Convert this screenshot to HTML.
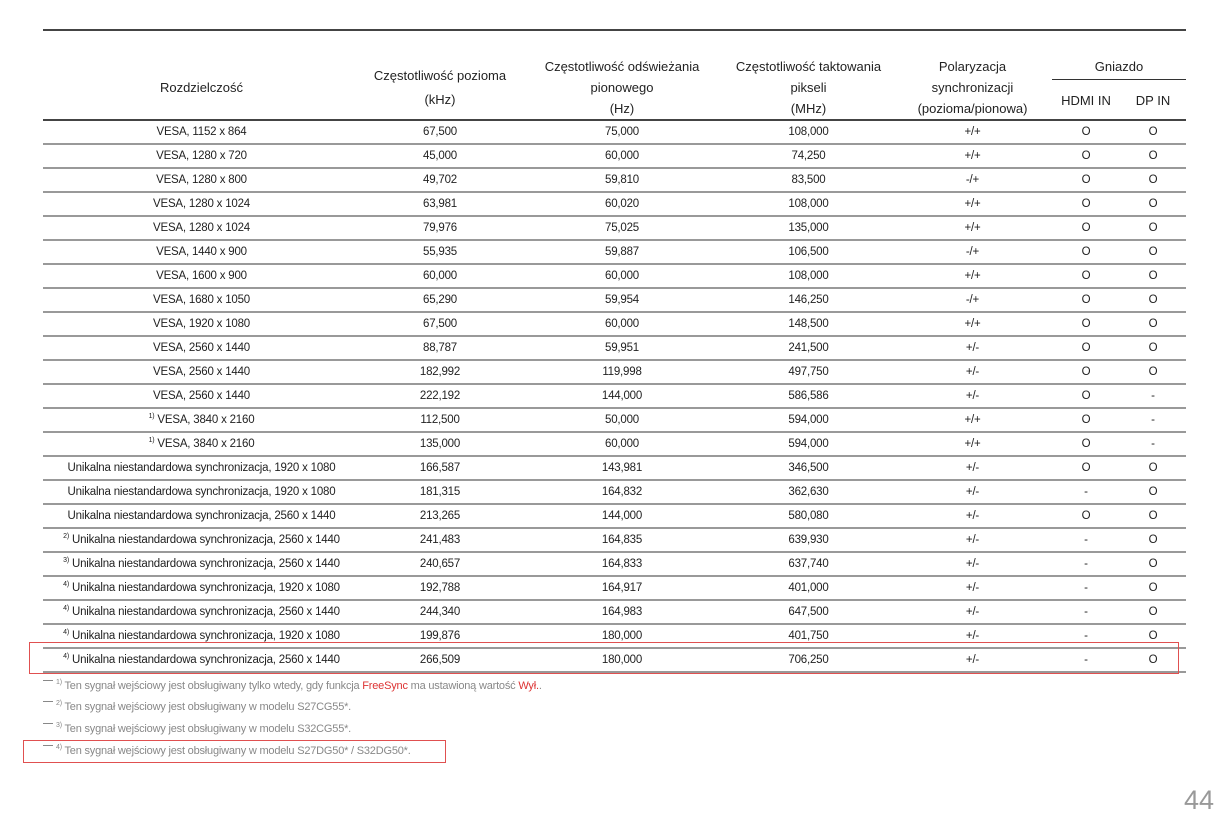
<!DOCTYPE html>
<html><head><meta charset="utf-8"><style>
body{margin:0;width:1226px;height:829px;background:#fff;font-family:"Liberation Sans",sans-serif;color:#222;position:relative;overflow:hidden}
table{position:absolute;left:43px;top:119px;width:1143px;border-collapse:collapse;table-layout:fixed;font-size:11.5px;letter-spacing:-0.2px}
td{text-align:center;padding:0}
tbody td{height:22px;line-height:22px;border-bottom:2px solid #999;white-space:nowrap}
tbody tr:first-child td{border-top:2px solid #444}
sup{font-size:7px;vertical-align:5px;line-height:0}
.h{position:absolute;font-size:13px;text-align:center;line-height:21px;color:#222;white-space:nowrap}
.fn{position:absolute;left:43px;font-size:11px;color:#888;letter-spacing:-0.2px}
.fn:before{content:"";position:absolute;left:0;top:0;width:10px;border-top:1px solid #888}
.fn>span{margin-left:13px}
.r{color:#d33}
.box{position:absolute;border:1px solid #e05050}
</style></head><body>
<div style="position:absolute;left:43px;top:29px;width:1143px;border-top:2px solid #444"></div>
<div class="h" style="left:43px;width:317px;top:77px">Rozdzielczość</div>
<div class="h" style="left:360px;width:160px;top:65px">Częstotliwość pozioma</div>
<div class="h" style="left:360px;width:160px;top:89px">(kHz)</div>
<div class="h" style="left:520px;width:204px;top:56px">Częstotliwość odświeżania<br>pionowego<br>(Hz)</div>
<div class="h" style="left:724px;width:169px;top:56px">Częstotliwość taktowania<br>pikseli<br>(MHz)</div>
<div class="h" style="left:893px;width:159px;top:56px">Polaryzacja<br>synchronizacji<br>(pozioma/pionowa)</div>
<div class="h" style="left:1052px;width:134px;top:56px">Gniazdo</div>
<div style="position:absolute;left:1052px;top:79px;width:134px;border-top:1px solid #333"></div>
<div class="h" style="left:1052px;width:68px;top:90px">HDMI IN</div>
<div class="h" style="left:1120px;width:66px;top:90px">DP IN</div>
<table>
<colgroup><col style="width:317px"><col style="width:160px"><col style="width:204px"><col style="width:169px"><col style="width:159px"><col style="width:68px"><col style="width:66px"></colgroup>
<tbody>
<tr><td>VESA, 1152 x 864</td><td>67,500</td><td>75,000</td><td>108,000</td><td>+/+</td><td>O</td><td>O</td></tr>
<tr><td>VESA, 1280 x 720</td><td>45,000</td><td>60,000</td><td>74,250</td><td>+/+</td><td>O</td><td>O</td></tr>
<tr><td>VESA, 1280 x 800</td><td>49,702</td><td>59,810</td><td>83,500</td><td>-/+</td><td>O</td><td>O</td></tr>
<tr><td>VESA, 1280 x 1024</td><td>63,981</td><td>60,020</td><td>108,000</td><td>+/+</td><td>O</td><td>O</td></tr>
<tr><td>VESA, 1280 x 1024</td><td>79,976</td><td>75,025</td><td>135,000</td><td>+/+</td><td>O</td><td>O</td></tr>
<tr><td>VESA, 1440 x 900</td><td>55,935</td><td>59,887</td><td>106,500</td><td>-/+</td><td>O</td><td>O</td></tr>
<tr><td>VESA, 1600 x 900</td><td>60,000</td><td>60,000</td><td>108,000</td><td>+/+</td><td>O</td><td>O</td></tr>
<tr><td>VESA, 1680 x 1050</td><td>65,290</td><td>59,954</td><td>146,250</td><td>-/+</td><td>O</td><td>O</td></tr>
<tr><td>VESA, 1920 x 1080</td><td>67,500</td><td>60,000</td><td>148,500</td><td>+/+</td><td>O</td><td>O</td></tr>
<tr><td>VESA, 2560 x 1440</td><td>88,787</td><td>59,951</td><td>241,500</td><td>+/-</td><td>O</td><td>O</td></tr>
<tr><td>VESA, 2560 x 1440</td><td>182,992</td><td>119,998</td><td>497,750</td><td>+/-</td><td>O</td><td>O</td></tr>
<tr><td>VESA, 2560 x 1440</td><td>222,192</td><td>144,000</td><td>586,586</td><td>+/-</td><td>O</td><td>-</td></tr>
<tr><td><sup>1)</sup> VESA, 3840 x 2160</td><td>112,500</td><td>50,000</td><td>594,000</td><td>+/+</td><td>O</td><td>-</td></tr>
<tr><td><sup>1)</sup> VESA, 3840 x 2160</td><td>135,000</td><td>60,000</td><td>594,000</td><td>+/+</td><td>O</td><td>-</td></tr>
<tr><td>Unikalna niestandardowa synchronizacja, 1920 x 1080</td><td>166,587</td><td>143,981</td><td>346,500</td><td>+/-</td><td>O</td><td>O</td></tr>
<tr><td>Unikalna niestandardowa synchronizacja, 1920 x 1080</td><td>181,315</td><td>164,832</td><td>362,630</td><td>+/-</td><td>-</td><td>O</td></tr>
<tr><td>Unikalna niestandardowa synchronizacja, 2560 x 1440</td><td>213,265</td><td>144,000</td><td>580,080</td><td>+/-</td><td>O</td><td>O</td></tr>
<tr><td><sup>2)</sup> Unikalna niestandardowa synchronizacja, 2560 x 1440</td><td>241,483</td><td>164,835</td><td>639,930</td><td>+/-</td><td>-</td><td>O</td></tr>
<tr><td><sup>3)</sup> Unikalna niestandardowa synchronizacja, 2560 x 1440</td><td>240,657</td><td>164,833</td><td>637,740</td><td>+/-</td><td>-</td><td>O</td></tr>
<tr><td><sup>4)</sup> Unikalna niestandardowa synchronizacja, 1920 x 1080</td><td>192,788</td><td>164,917</td><td>401,000</td><td>+/-</td><td>-</td><td>O</td></tr>
<tr><td><sup>4)</sup> Unikalna niestandardowa synchronizacja, 2560 x 1440</td><td>244,340</td><td>164,983</td><td>647,500</td><td>+/-</td><td>-</td><td>O</td></tr>
<tr><td><sup>4)</sup> Unikalna niestandardowa synchronizacja, 1920 x 1080</td><td>199,876</td><td>180,000</td><td>401,750</td><td>+/-</td><td>-</td><td>O</td></tr>
<tr><td><sup>4)</sup> Unikalna niestandardowa synchronizacja, 2560 x 1440</td><td>266,509</td><td>180,000</td><td>706,250</td><td>+/-</td><td>-</td><td>O</td></tr>
</tbody>
</table>
<div class="box" style="left:29px;top:642px;width:1148px;height:30px"></div>
<div class="fn" style="top:680px"><span><sup>1)</sup> Ten sygnał wejściowy jest obsługiwany tylko wtedy, gdy funkcja <span class="r">FreeSync</span> ma ustawioną wartość <span class="r">Wył.</span>.</span></div>
<div class="fn" style="top:701px"><span><sup>2)</sup> Ten sygnał wejściowy jest obsługiwany w modelu S27CG55*.</span></div>
<div class="fn" style="top:723px"><span><sup>3)</sup> Ten sygnał wejściowy jest obsługiwany w modelu S32CG55*.</span></div>
<div class="fn" style="top:745px"><span><sup>4)</sup> Ten sygnał wejściowy jest obsługiwany w modelu S27DG50* / S32DG50*.</span></div>
<div class="box" style="left:23px;top:740px;width:421px;height:21px"></div>
<div style="position:absolute;left:1184px;top:785px;font-size:27px;color:#999">44</div>
</body></html>
